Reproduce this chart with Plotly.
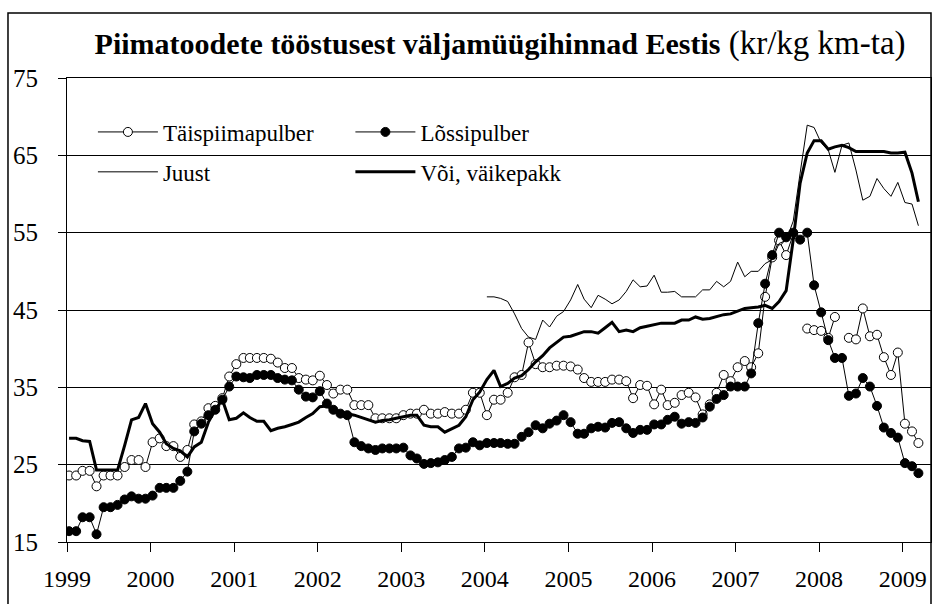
import pandas as pd
import plotly.graph_objects as go

# Monthly series, Jan 1999 .. Mar 2009 (kr/kg)
months = pd.date_range("1999-01-01", periods=123, freq="MS") + pd.Timedelta(days=9)

taispiimapulber = [
    23.6, 23.6, 24.2, 24.2, 22.2, 23.6, 23.6, 23.6, 24.7, 25.6, 25.6, 24.7,   # 1999
    27.9, 28.4, 27.4, 27.4, 26.0, 26.9, 30.2, 30.6, 32.3, 32.6, 33.6, 36.4,   # 2000
    38.0, 38.8, 38.8, 38.8, 38.8, 38.7, 38.2, 37.5, 37.5, 36.2, 36.0, 35.9,   # 2001
    36.5, 35.3, 34.2, 34.7, 34.7, 32.7, 32.7, 32.7, 31.0, 31.0, 31.0, 31.0,   # 2002
    31.4, 31.6, 31.6, 32.1, 31.6, 31.6, 31.8, 31.6, 31.6, 32.1, 34.3, 34.3,   # 2003
    31.4, 33.4, 33.4, 34.3, 36.3, 36.6, 40.8, 38.0, 37.6, 37.6, 37.8, 37.8,   # 2004
    37.7, 37.3, 36.2, 35.7, 35.7, 35.7, 36.0, 36.0, 35.8, 33.6, 35.3, 35.2,   # 2005
    32.8, 34.7, 32.7, 33.0, 34.0, 34.3, 33.7, 31.5, 32.8, 34.3, 36.6, 35.8,   # 2006
    37.6, 38.4, 37.6, 39.4, 46.7, 51.8, 54.0, 52.1, 54.8, None, 42.6, 42.4,   # 2007
    42.3, 41.4, 44.1, None, 41.4, 41.2, 45.2, 41.6, 41.8, 38.9, 36.6, 39.5,   # 2008
    30.3, 29.3, 27.8,                                                         # 2009
]

lossipulber = [
    16.4, 16.4, 18.2, 18.2, 16.0, 19.5, 19.5, 19.8, 20.5, 20.9, 20.6, 20.6,
    21.0, 22.0, 22.0, 22.0, 22.9, 24.1, 29.3, 30.3, 31.4, 32.1, 33.4, 35.1,
    36.4, 36.3, 36.2, 36.6, 36.6, 36.6, 36.2, 36.0, 35.9, 34.7, 33.8, 33.7,
    34.5, 32.9, 32.1, 31.6, 31.4, 27.9, 27.4, 27.1, 26.9, 27.1, 27.1, 27.1,
    27.2, 26.2, 25.8, 25.1, 25.2, 25.3, 25.6, 26.0, 27.1, 27.2, 27.9, 27.5,
    27.8, 27.8, 27.8, 27.7, 27.7, 28.6, 29.2, 30.1, 29.7, 30.3, 30.7, 31.4,
    30.5, 29.0, 29.0, 29.7, 29.9, 29.8, 30.4, 30.5, 29.7, 29.1, 29.5, 29.5,
    30.2, 30.2, 30.8, 31.2, 30.3, 30.5, 30.4, 31.1, 32.5, 33.5, 34.0, 35.1,
    35.1, 35.1, 36.8, 43.3, 48.4, 52.1, 55.0, 54.4, 55.0, 54.1, 55.0, 48.2,
    44.7, 41.1, 38.8, 38.8, 33.9, 34.2, 36.2, 35.1, 32.6, 29.8, 29.1, 28.5,
    25.2, 24.8, 23.9,
]

juust = [None] * 60 + [
    46.7, 46.7, 46.5, 46.1, 44.5, 42.6, 41.5, 41.2, 43.7, 42.8, 44.2, 44.8,
    46.3, 48.3, 46.4, 45.3, 46.9, 46.4, 45.8, 46.3, 47.4, 48.9, 48.0, 48.1,
    49.5, 47.3, 47.3, 47.4, 46.7, 46.7, 46.7, 47.6, 47.6, 48.7, 48.0, 48.7,
    51.2, 49.3, 50.0, 50.0, 51.0, 51.5, 53.6, 54.0, 56.5, 62.7, 68.9, 68.6,
    66.6, 65.7, 62.8, 66.3, 66.6, 63.1, 59.2, 59.7, 62.0, 60.7, 59.7, 61.5,
    58.9, 58.7, 55.9,
]

voi_vaikepakk = [
    28.4, 28.4, 28.1, 28.0, 24.3, 24.3, 24.3, 24.3, 27.5, 30.8, 31.1, 32.9,
    30.3, 29.2, 27.7, 27.1, 26.8, 26.0, 27.3, 27.9, 30.5, 32.1, 33.4, 30.8,
    31.0, 31.7, 31.1, 30.6, 30.6, 29.4, 29.7, 29.9, 30.2, 30.5, 31.1, 31.6,
    32.5, 32.6, 32.1, 31.8, 31.6, 31.4, 31.1, 30.8, 30.5, 30.7, 30.8, 31.0,
    31.2, 31.4, 31.4, 30.1, 29.9, 29.9, 29.2, 29.7, 30.1, 31.2, 33.4, 34.4,
    36.0, 37.2, 35.1, 35.5, 36.2, 36.5, 37.3, 38.3, 39.1, 40.1, 40.8, 41.5,
    41.6, 41.9, 42.2, 42.2, 42.0, 42.7, 43.4, 42.2, 42.4, 42.2, 42.7, 42.9,
    43.1, 43.3, 43.3, 43.3, 43.7, 43.7, 44.1, 43.8, 43.9, 44.1, 44.4, 44.5,
    44.9, 45.2, 45.3, 45.4, 45.6, 45.2, 46.1, 47.5, 54.1, 61.4, 65.3, 66.9,
    66.9, 65.8, 66.1, 66.3, 66.0, 65.5, 65.5, 65.5, 65.5, 65.5, 65.3, 65.3,
    65.4, 62.7, 59.0,
]

year_ticks = [str(y) for y in range(1999, 2010)]
y_ticks = [15, 25, 35, 45, 55, 65, 75]

FONT = "Liberation Serif"

fig = go.Figure()
fig.add_trace(go.Scatter(
    x=months, y=taispiimapulber, name="Täispiimapulber", mode="lines+markers",
    line=dict(color="black", width=1),
    marker=dict(symbol="circle", size=9, color="white", line=dict(color="black", width=1)),
    legend="legend", legendgroup="a", connectgaps=False,
))
fig.add_trace(go.Scatter(
    x=months, y=lossipulber, name="Lõssipulber", mode="lines+markers",
    line=dict(color="black", width=1),
    marker=dict(symbol="circle", size=9, color="black", line=dict(color="black", width=1)),
    legend="legend2", legendgroup="b",
))
fig.add_trace(go.Scatter(
    x=months, y=juust, name="Juust", mode="lines",
    line=dict(color="black", width=1),
    legend="legend", legendgroup="c",
))
fig.add_trace(go.Scatter(
    x=months, y=voi_vaikepakk, name="Või, väikepakk", mode="lines",
    line=dict(color="black", width=3),
    legend="legend2", legendgroup="d",
))

legend_common = dict(
    font=dict(family=FONT, size=23, color="black"),
    bgcolor="rgba(0,0,0,0)", borderwidth=0, itemwidth=60,
    tracegroupgap=7, xanchor="left", yanchor="top", orientation="v",
)

fig.update_layout(
    width=933, height=604,
    margin=dict(l=67, r=2, t=78, b=62),
    paper_bgcolor="white", plot_bgcolor="white",
    font=dict(family=FONT, size=23, color="black"),
    title=dict(
        text=("<b>Piimatoodete tööstusest väljamüügihinnad Eestis</b>"
              "<span style='font-size:33px'> (kr/kg km-ta)</span>"),
        x=0.536, xref="container", xanchor="center",
        y=0.928, yref="container", yanchor="middle",
        font=dict(family=FONT, size=30, color="black"),
    ),
    showlegend=True,
    legend=dict(x=0.03, y=0.93, **legend_common),
    legend2=dict(x=0.328, y=0.93, **legend_common),
    xaxis=dict(
        type="date",
        range=["1999-01-01", "2009-05-04"],
        tickvals=[f"{y}-01-01" for y in range(1999, 2010)],
        ticktext=year_ticks,
        ticks="outside", ticklen=9, tickwidth=1, tickcolor="black",
        ticklabelstandoff=6,
        showline=True, linecolor="black", linewidth=1, mirror=True,
        showgrid=False, zeroline=False,
        tickfont=dict(family=FONT, size=24, color="black"),
    ),
    yaxis=dict(
        range=[15, 75], tickvals=y_ticks,
        ticks="outside", ticklen=8, tickwidth=1, tickcolor="black",
        ticklabelstandoff=15,
        showline=True, linecolor="black", linewidth=1, mirror=True,
        showgrid=True, gridcolor="black", gridwidth=1, zeroline=False,
        tickfont=dict(family=FONT, size=25, color="black"),
    ),
    shapes=[dict(
        type="rect", xref="paper", yref="paper",
        x0=-0.0683, x1=1.0, y0=-0.2, y1=1.1401,
        line=dict(color="black", width=1.5), fillcolor="rgba(0,0,0,0)", layer="above",
    )],
)

fig.write_html(
    "out.html",
    config={"displayModeBar": False},
    post_script="document.body.style.margin='0px';document.body.style.overflow='hidden';",
)
